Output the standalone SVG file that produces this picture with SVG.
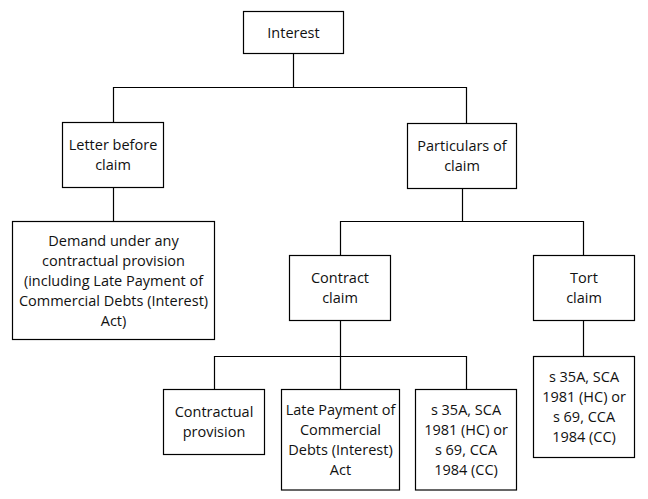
<svg xmlns="http://www.w3.org/2000/svg" width="648" height="499" viewBox="0 0 648 499">
<style>
.box{fill:#fff;stroke:#000;stroke-width:1.2}
.lbl{font-family:"Open Sans","Noto Sans","Liberation Sans",sans-serif;font-size:14.5px;fill:#111;text-anchor:middle}
.con{fill:none;stroke:#000;stroke-width:1.2}
</style>
<rect width="648" height="499" fill="#fff"/>
<g id="connectors">
<path class="con" d="M293.5 53.5V87.5M113.5 122.5V87.5H466.5V123.5"/>
<path class="con" d="M113.5 187.5V221.5"/>
<path class="con" d="M462.5 188.5V221.5M340.5 255.5V221.5H583.5V255.5"/>
<path class="con" d="M340.5 320.5V389.5M214.5 389.5V356.5H466.5V389.5"/>
<path class="con" d="M583.5 320.5V356.5"/>
</g>
<g id="interest">
<rect class="box" x="243.5" y="11.5" width="100" height="42"/>
<text class="lbl" x="293.5" y="37.5">Interest</text>
</g>
<g id="letter">
<rect class="box" x="62.5" y="122.5" width="101" height="65"/>
<text class="lbl" x="113" y="149.8">Letter before</text>
<text class="lbl" x="113" y="169.8">claim</text>
</g>
<g id="particulars">
<rect class="box" x="407.5" y="123.5" width="109" height="65"/>
<text class="lbl" x="462" y="150.8">Particulars of</text>
<text class="lbl" x="462" y="170.8">claim</text>
</g>
<g id="demand">
<rect class="box" x="12.5" y="221.5" width="202" height="118"/>
<text class="lbl" x="113.5" y="245.5">Demand under any</text>
<text class="lbl" x="113.5" y="265.5">contractual provision</text>
<text class="lbl" x="113.5" y="285.5">(including Late Payment of</text>
<text class="lbl" x="113.5" y="305.5">Commercial Debts (Interest)</text>
<text class="lbl" x="113.5" y="325.5">Act)</text>
</g>
<g id="contract">
<rect class="box" x="289.5" y="255.5" width="101" height="65"/>
<text class="lbl" x="340" y="282.8">Contract</text>
<text class="lbl" x="340" y="302.8">claim</text>
</g>
<g id="tort">
<rect class="box" x="533.5" y="255.5" width="101" height="65"/>
<text class="lbl" x="584" y="282.8">Tort</text>
<text class="lbl" x="584" y="302.8">claim</text>
</g>
<g id="contractual">
<rect class="box" x="163.5" y="389.5" width="101" height="65"/>
<text class="lbl" x="214" y="416.8">Contractual</text>
<text class="lbl" x="214" y="436.8">provision</text>
</g>
<g id="latepayment">
<rect class="box" x="281.5" y="389.5" width="118" height="100.5"/>
<text class="lbl" x="340.5" y="414.8">Late Payment of</text>
<text class="lbl" x="340.5" y="434.8">Commercial</text>
<text class="lbl" x="340.5" y="454.8">Debts (Interest)</text>
<text class="lbl" x="340.5" y="474.8">Act</text>
</g>
<g id="statute-contract">
<rect class="box" x="415.5" y="389.5" width="101" height="100.5"/>
<text class="lbl" x="466" y="414.8">s 35A, SCA</text>
<text class="lbl" x="466" y="434.8">1981 (HC) or</text>
<text class="lbl" x="466" y="454.8">s 69, CCA</text>
<text class="lbl" x="466" y="474.8">1984 (CC)</text>
</g>
<g id="statute-tort">
<rect class="box" x="533.5" y="356.5" width="101" height="101"/>
<text class="lbl" x="584" y="381.8">s 35A, SCA</text>
<text class="lbl" x="584" y="401.8">1981 (HC) or</text>
<text class="lbl" x="584" y="421.8">s 69, CCA</text>
<text class="lbl" x="584" y="441.8">1984 (CC)</text>
</g>
</svg>
